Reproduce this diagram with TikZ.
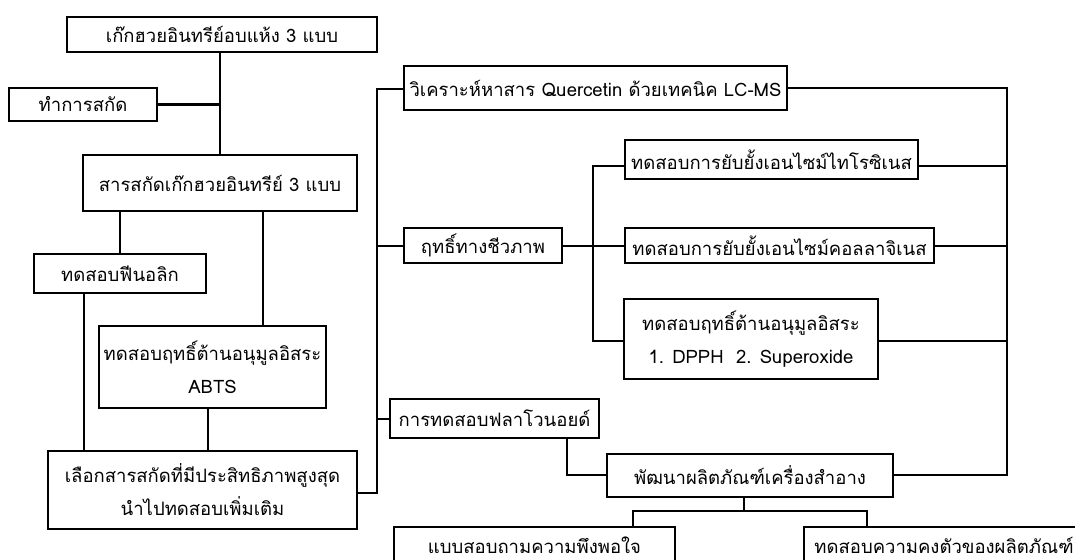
\documentclass[tikz,border=0pt]{standalone}
\usepackage{fontspec}
\setmainfont[Script=Thai]{Loma}
\begin{document}
\begin{tikzpicture}[x=1pt,y=-1pt,
  box/.style={draw, line width=1.3pt, inner sep=0pt, align=center, fill=white,
    font=\fontsize{18.5}{33}\selectfont},
  conn/.style={line width=2.3pt}]
\useasboundingbox (0,0) rectangle (1075,559);
\fill[white] (0,0) rectangle (1075,559);
% left column
\node[box, minimum width=310pt, minimum height=35pt] (n1) at (222,34.5) {เก๊กฮวยอินทรีย์อบแห้ง 3 แบบ};
\node[box, minimum width=148pt, minimum height=33pt] (n2) at (83,104.5) {ทำการสกัด};
\node[box, minimum width=274pt, minimum height=56pt] (n3) at (220,183) {\raisebox{-5pt}{สารสกัดเก๊กฮวยอินทรีย์ 3 แบบ}};
\node[box, minimum width=172pt, minimum height=39pt] (n4) at (120,273.5) {ทดสอบฟีนอลิก};
\node[box, minimum width=227pt, minimum height=82pt] (n5) at (212.5,367) {ทดสอบฤทธิ์ต้านอนุมูลอิสระ\\ABTS};
\node[box, minimum width=309pt, minimum height=78pt] (n6) at (202.5,490) {เลือกสารสกัดที่มีประสิทธิภาพสูงสุด\\นำไปทดสอบเพิ่มเติม};
% right part
\node[box, minimum width=383pt, minimum height=44pt] (n7) at (595.5,88) {วิเคราะห์หาสาร Quercetin ด้วยเทคนิค LC-MS};
\node[box, minimum width=158pt, minimum height=35pt] (n8) at (483,245.5) {ฤทธิ์ทางชีวภาพ};
\node[box, minimum width=293pt, minimum height=39pt] (n9) at (771.5,159.5) {ทดสอบการยับยั้งเอนไซม์ไทโรซิเนส};
\node[box, minimum width=309pt, minimum height=35pt] (n10) at (779.5,245.5) {ทดสอบการยับยั้งเอนไซม์คอลลาจิเนส};
\node[box, minimum width=254pt, minimum height=80pt] (n11) at (751,339) {ทดสอบฤทธิ์ต้านอนุมูลอิสระ\\1. DPPH~~2. Superoxide};
\node[box, minimum width=209pt, minimum height=39pt] (n12) at (494.5,418.5) {การทดสอบฟลาโวนอยด์};
\node[box, minimum width=286pt, minimum height=43pt] (n13) at (750,475.5) {พัฒนาผลิตภัณฑ์เครื่องสำอาง};
\node[box, minimum width=281pt, minimum height=36pt] (n14) at (534.5,545) {แบบสอบถามความพึงพอใจ};
\node[box, minimum width=280pt, minimum height=36pt] (n15) at (944,545) {ทดสอบความคงตัวของผลิตภัณฑ์};
% junction coordinates
\coordinate (tTop) at (377,89);
\coordinate (tBot) at (377,493);
\coordinate (tB8) at (377,246);
\coordinate (tB12) at (377,419);
\coordinate (sTop) at (593,166);
\coordinate (sMid) at (593,246);
\coordinate (sBot) at (593,341);
\coordinate (rTop) at (1007,88);
\coordinate (r9) at (1007,166);
\coordinate (r10) at (1007,246);
\coordinate (r11) at (1007,341);
\coordinate (rBot) at (1007,475);
\coordinate (fl) at (567,475);
\coordinate (b0) at (744,511);
\coordinate (bL) at (633,511);
\coordinate (bR) at (867,511);
\coordinate (c35) at (263,0);
\coordinate (c46) at (84,0);
\coordinate (c56) at (208,0);
% left connectors
\draw[conn] (n1.south -| n3.north) -- (n3.north);
\draw[conn] (n2.east) -- (n2.east -| n3.north);
\draw[conn] (n4.north) -- (n4.north |- n3.south);
\draw[conn] (c35 |- n3.south) -- (c35 |- n5.north);
\draw[conn] (c46 |- n4.south) -- (c46 |- n6.north);
\draw[conn] (c56 |- n5.south) -- (c56 |- n6.north);
% main trunk
\draw[conn] (tBot -| n6.east) -- (tBot) -- (tTop) -- (tTop -| n7.west);
\draw[conn] (tB8) -- (tB8 -| n8.west);
\draw[conn] (tB12) -- (tB12 -| n12.west);
% sub trunk
\draw[conn] (n8.east |- sMid) -- (sMid);
\draw[conn] (sTop -| n9.west) -- (sTop) -- (sBot) -- (sBot -| n11.west);
\draw[conn] (sMid) -- (sMid -| n10.west);
% right trunk
\draw[conn] (rTop -| n7.east) -- (rTop) -- (rBot) -- (rBot -| n13.east);
\draw[conn] (r9 -| n9.east) -- (r9);
\draw[conn] (r10 -| n10.east) -- (r10);
\draw[conn] (r11 -| n11.east) -- (r11);
% flavonoid to product
\draw[conn] (fl |- n12.south) -- (fl) -- (fl -| n13.west);
% product to tests
\draw[conn] (b0 |- n13.south) -- (b0);
\draw[conn] (bL |- n14.north) -- (bL) -- (bR) -- (bR |- n15.north);
\end{tikzpicture}
\end{document}
